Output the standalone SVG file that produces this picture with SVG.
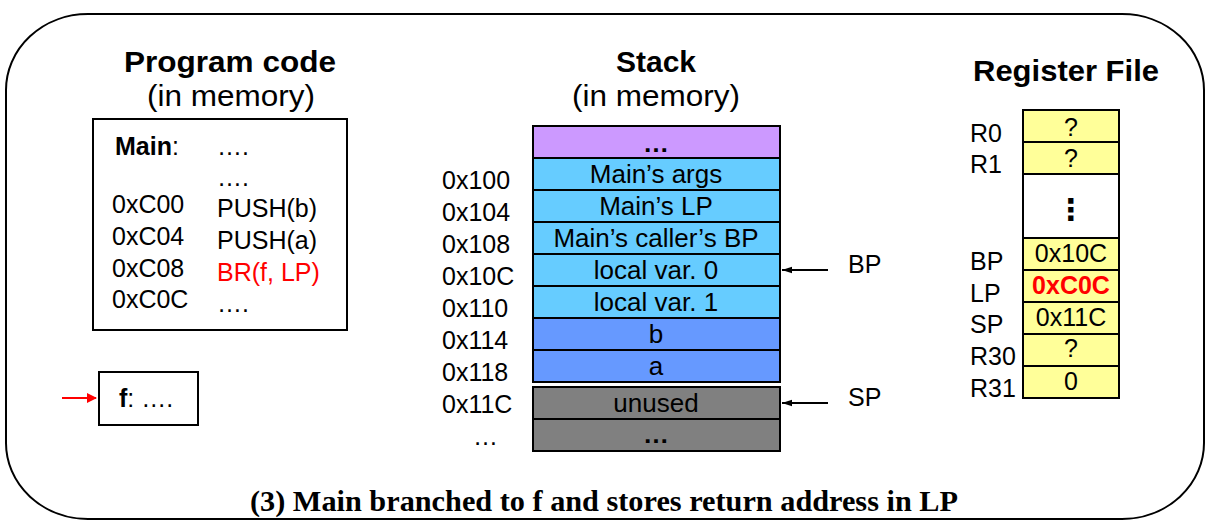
<svg xmlns="http://www.w3.org/2000/svg" width="1210" height="529" viewBox="0 0 1210 529">
<style>
text{font-family:"Liberation Sans",Arial,sans-serif;fill:#000}
.t{font-size:30px;font-weight:bold;text-anchor:middle}
.s{font-size:29px;text-anchor:middle}
.c{font-size:25px}
.m{font-size:26px;text-anchor:middle}
.r{font-size:25px;text-anchor:middle}
.b{font-weight:bold}
.cell{stroke:#000;stroke-width:2}
.ln{stroke:#000;stroke-width:2;fill:none}
</style>
<defs>
<marker id="ah" markerWidth="10" markerHeight="8" refX="10" refY="4" orient="auto" markerUnits="userSpaceOnUse">
<path d="M0,0.8 L10,4 L0,7.2 Z" fill="#000"/>
</marker>
<marker id="ahr" markerWidth="10" markerHeight="10" refX="9" refY="5" orient="auto" markerUnits="userSpaceOnUse">
<path d="M0,0 L10,5 L0,10 Z" fill="#ff0000"/>
</marker>
</defs>
<rect x="6" y="14" width="1198" height="505" rx="82" ry="76" fill="#fff" stroke="#000" stroke-width="2"/>

<g id="program">
<text class="t" x="230" y="72" textLength="212" lengthAdjust="spacingAndGlyphs">Program code</text>
<text class="s" x="231" y="106" textLength="168" lengthAdjust="spacingAndGlyphs">(in memory)</text>
<rect x="93" y="119" width="254" height="211" fill="#fff" class="cell"/>
<text class="c" x="115" y="155"><tspan class="b">Main</tspan>:</text>
<text class="c" x="217" y="155">….</text>
<text class="c" x="217" y="186">….</text>
<text class="c" x="112" y="213">0xC00</text>
<text class="c" x="217" y="217">PUSH(b)</text>
<text class="c" x="112" y="245">0xC04</text>
<text class="c" x="217" y="249">PUSH(a)</text>
<text class="c" x="112" y="277">0xC08</text>
<text class="c" x="217" y="281" style="fill:#ff0000">BR(f, LP)</text>
<text class="c" x="112" y="308">0xC0C</text>
<text class="c" x="217" y="312">….</text>
</g>

<g id="f">
<rect x="99" y="372" width="99" height="53" fill="#fff" class="cell"/>
<text class="c" x="119" y="407"><tspan class="b">f</tspan>: ….</text>
</g>

<g id="stack">
<text class="t" x="656" y="72">Stack</text>
<text class="s" x="656" y="106" textLength="168" lengthAdjust="spacingAndGlyphs">(in memory)</text>
<rect x="533" y="126" width="247" height="32" fill="#cc99ff" class="cell"/>
<rect x="533" y="158" width="247" height="32" fill="#66ccff" class="cell"/>
<rect x="533" y="190" width="247" height="32" fill="#66ccff" class="cell"/>
<rect x="533" y="222" width="247" height="32" fill="#66ccff" class="cell"/>
<rect x="533" y="254" width="247" height="32" fill="#66ccff" class="cell"/>
<rect x="533" y="286" width="247" height="32" fill="#66ccff" class="cell"/>
<rect x="533" y="318" width="247" height="32" fill="#6699ff" class="cell"/>
<rect x="533" y="350" width="247" height="32" fill="#6699ff" class="cell"/>
<rect x="533" y="387" width="247" height="32" fill="#808080" class="cell"/>
<rect x="533" y="419" width="247" height="32" fill="#808080" class="cell"/>
<text class="m b" x="656" y="152">…</text>
<text class="m" x="656" y="183">Main’s args</text>
<text class="m" x="656" y="215">Main’s LP</text>
<text class="m" x="656" y="247">Main’s caller’s BP</text>
<text class="m" x="656" y="279">local var. 0</text>
<text class="m" x="656" y="311">local var. 1</text>
<text class="m" x="656" y="343">b</text>
<text class="m" x="656" y="375">a</text>
<text class="m" x="656" y="412">unused</text>
<text class="m b" x="656" y="443">…</text>
<text class="c" x="442" y="189">0x100</text>
<text class="c" x="442" y="221">0x104</text>
<text class="c" x="442" y="253">0x108</text>
<text class="c" x="442" y="285">0x10C</text>
<text class="c" x="442" y="317">0x110</text>
<text class="c" x="442" y="349">0x114</text>
<text class="c" x="442" y="381">0x118</text>
<text class="c" x="442" y="413">0x11C</text>
<text class="c" x="473" y="445">…</text>
<text class="c" x="848" y="273">BP</text>
<text class="c" x="848" y="406">SP</text>
</g>

<g id="registers">
<text class="t" x="1066" y="81" textLength="186" lengthAdjust="spacingAndGlyphs">Register File</text>
<rect x="1023" y="110" width="96" height="32" fill="#ffff99" class="cell"/>
<rect x="1023" y="142" width="96" height="32" fill="#ffff99" class="cell"/>
<rect x="1023" y="174" width="96" height="64" fill="#fff" class="cell"/>
<rect x="1023" y="238" width="96" height="32" fill="#ffff99" class="cell"/>
<rect x="1023" y="270" width="96" height="32" fill="#ffff99" class="cell"/>
<rect x="1023" y="302" width="96" height="32" fill="#ffff99" class="cell"/>
<rect x="1023" y="334" width="96" height="32" fill="#ffff99" class="cell"/>
<rect x="1023" y="366" width="96" height="32" fill="#ffff99" class="cell"/>
<text class="r" x="1071" y="136">?</text>
<text class="r" x="1071" y="167">?</text>
<text class="r b" x="1071" y="220" style="font-family:'DejaVu Sans',sans-serif;font-size:30px">⋮</text>
<text class="r" x="1071" y="262">0x10C</text>
<text class="r b" x="1071" y="294" style="fill:#ff0000">0xC0C</text>
<text class="r" x="1071" y="326">0x11C</text>
<text class="r" x="1071" y="357">?</text>
<text class="r" x="1071" y="390">0</text>
<text class="c" x="970" y="142">R0</text>
<text class="c" x="970" y="173">R1</text>
<text class="c" x="970" y="270">BP</text>
<text class="c" x="970" y="302">LP</text>
<text class="c" x="970" y="333">SP</text>
<text class="c" x="970" y="365">R30</text>
<text class="c" x="970" y="397">R31</text>
</g>

<g id="connectors">
<line x1="828" y1="270" x2="782" y2="270" class="ln" marker-end="url(#ah)"/>
<line x1="828" y1="403" x2="782" y2="403" class="ln" marker-end="url(#ah)"/>
<line x1="62" y1="398" x2="96" y2="398" stroke="#ff0000" stroke-width="2" marker-end="url(#ahr)"/>
</g>

<text x="250" y="511" style="font-family:'Liberation Serif','Times New Roman',serif;font-size:29px;font-weight:bold" textLength="708" lengthAdjust="spacingAndGlyphs">(3) Main branched to f and stores return address in LP</text>
</svg>
